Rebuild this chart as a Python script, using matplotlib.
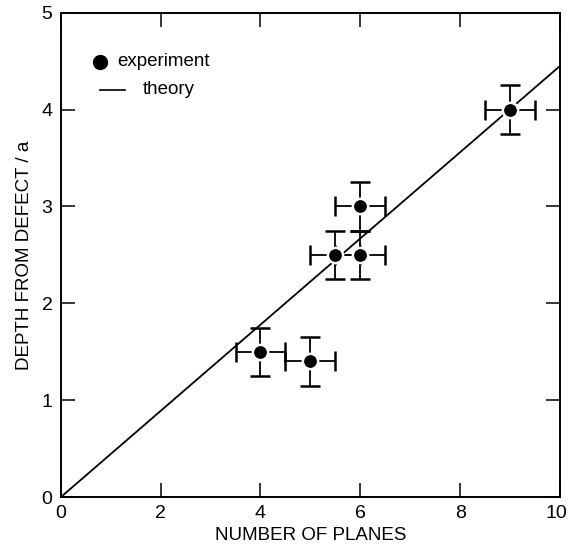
import matplotlib
matplotlib.use("Agg")
import matplotlib.pyplot as plt
import matplotlib.transforms as mtrans

plt.rcParams['font.family'] = ['Liberation Sans', 'DejaVu Sans']

# data
planes = [4, 5, 5.5, 6, 6, 9]
depth = [1.5, 1.4, 2.5, 3.0, 2.5, 4.0]
x_err = [0.5, 0.5, 0.5, 0.5, 0.5, 0.5]
y_err = [0.25, 0.25, 0.25, 0.25, 0.25, 0.25]
theory_x = [0, 10]
theory_y = [0, 4.45]
xticks = [0, 2, 4, 6, 8, 10]
yticks = [0, 1, 2, 3, 4, 5]

fig = plt.figure(figsize=(5.69, 5.56), dpi=100)
ax = fig.add_axes([0.107, 0.106, 0.877, 0.871])

ax.plot(theory_x, theory_y, color='black', lw=1.3, zorder=2)
ax.errorbar(planes, depth, xerr=x_err, yerr=y_err, fmt='o', color='black',
            ms=11, mec='white', mew=1.8, ecolor='black', elinewidth=1.3,
            capsize=7, capthick=1.3, zorder=3)

ax.set_xlim(0, 10)
ax.set_ylim(0, 5)
ax.set_xticks(xticks)
ax.set_yticks(yticks)
ax.tick_params(direction='in', length=10, width=1.1, labelsize=14,
               top=True, right=True, pad=6)
for s in ax.spines.values():
    s.set_linewidth(1.4)

ax.set_xlabel('NUMBER OF PLANES', fontsize=13.5, labelpad=3)
ax.set_ylabel('DEPTH FROM DEFECT / a', fontsize=13.5, labelpad=6)

# keep the last x tick label inside the figure
fig.canvas.draw()
last = ax.get_xticklabels()[-1]
last.set_transform(last.get_transform() +
                   mtrans.ScaledTranslation(-4 / 100, 0, fig.dpi_scale_trans))

# legend drawn by hand
ax.plot([0.078], [0.899], 'o', color='black', ms=10, transform=ax.transAxes)
ax.text(0.112, 0.899, 'experiment', transform=ax.transAxes, fontsize=13.5,
        va='center', ha='left')
ax.plot([0.078, 0.128], [0.841, 0.841], color='black', lw=1.2,
        transform=ax.transAxes)
ax.text(0.164, 0.841, 'theory', transform=ax.transAxes, fontsize=13.5,
        va='center', ha='left')

fig.savefig('out.png', dpi=100)
